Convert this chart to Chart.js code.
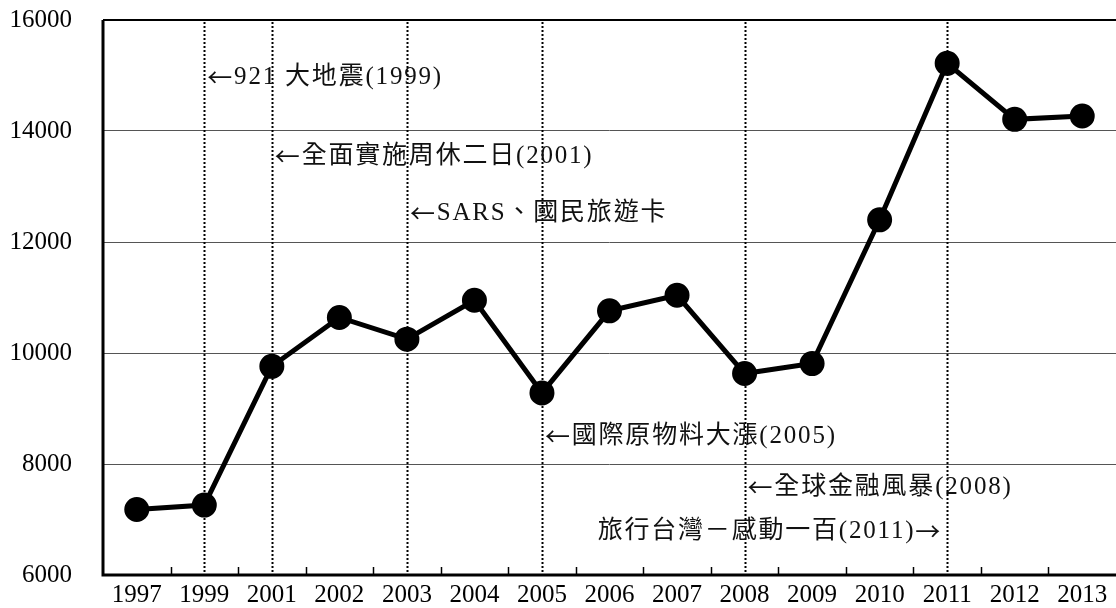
<!DOCTYPE html>
<html>
<head>
<meta charset="utf-8">
<script src="https://cdn.jsdelivr.net/npm/chart.js@4"></script>
<style>
  html, body { margin: 0; padding: 0; background: #fff; }
  #wrap { width: 1116px; height: 608px; }
</style>
</head>
<body>
<div id="wrap"><canvas id="grafica" width="1116" height="608"></canvas></div>
<script>
const anios = ['1997','1999','2001','2002','2003','2004','2005','2006','2007','2008','2009','2010','2011','2012','2013']
const valores = [7180, 7260, 9760, 10640, 10250, 10950, 9280, 10760, 11040, 9630, 9810, 12400, 15220, 14210, 14270]
const yTicks = [6000, 8000, 10000, 12000, 14000, 16000]

// eventos: texto, categoría donde cae la línea punteada, altura del texto (en unidades del eje y)
const eventos = ['←921 大地震(1999)', '←全面實施周休二日(2001)', '←SARS、國民旅遊卡', '←國際原物料大漲(2005)', '←全球金融風暴(2008)', '旅行台灣－感動一百(2011)→']
const eventoCat = [1, 2, 4, 6, 9, 12]
const eventoY = [14970, 13540, 12520, 8500, 7580, 6790]
const eventoLado = ['right', 'right', 'right', 'right', 'right', 'left']

const serif = '"Liberation Serif", "Times New Roman", "Noto Sans CJK TC", serif'
const cjk = '"Noto Sans CJK TC", sans-serif'

// dibuja el texto por tramos: flechas con la fuente CJK (más anchas), resto con serif
function textoMixto(ctx, t, x, y, alinear) {
  const tramos = []
  for (const ch of t) {
    const f = (ch === '←' || ch === '→') ? cjk : serif
    const ult = tramos[tramos.length - 1]
    if (ult && ult.f === f) ult.s += ch
    else tramos.push({ f, s: ch })
  }
  let total = 0
  tramos.forEach((tr) => {
    ctx.font = '25px ' + tr.f
    tr.w = ctx.measureText(tr.s).width
    total += tr.w
  })
  let px = alinear === 'right' ? x - total : x
  ctx.textAlign = 'left'
  tramos.forEach((tr) => {
    ctx.font = '25px ' + tr.f
    ctx.fillText(tr.s, px, y)
    px += tr.w
  })
}

const marco = {
  id: 'marco',
  beforeDatasetsDraw(chart) {
    const { ctx, chartArea: a, scales: { x } } = chart
    ctx.save()
    // líneas punteadas de eventos
    ctx.strokeStyle = '#000'
    ctx.lineWidth = 2
    ctx.setLineDash([2, 2])
    eventoCat.forEach((c) => {
      const px = Math.round(x.getPixelForValue(c)) + 0.5
      ctx.beginPath()
      ctx.moveTo(px, a.top + 2)
      ctx.lineTo(px, a.bottom - 2)
      ctx.stroke()
    })
    ctx.setLineDash([])
    // marcas internas del eje x
    ctx.lineWidth = 1.5
    for (let i = 0; i < anios.length - 1; i++) {
      const px = Math.round((x.getPixelForValue(i) + x.getPixelForValue(i + 1)) / 2) + 0.5
      ctx.beginPath()
      ctx.moveTo(px, a.bottom)
      ctx.lineTo(px, a.bottom - 8)
      ctx.stroke()
    }
    // marco
    ctx.lineWidth = 3
    ctx.beginPath()
    ctx.moveTo(a.left, a.top)
    ctx.lineTo(a.left, a.bottom)
    ctx.lineTo(a.right, a.bottom)
    ctx.stroke()
    ctx.lineWidth = 2
    ctx.beginPath()
    ctx.moveTo(a.left, a.top)
    ctx.lineTo(a.right, a.top)
    ctx.stroke()
    ctx.restore()
  },
  afterDraw(chart) {
    const { ctx, scales: { x, y } } = chart
    ctx.save()
    ctx.fillStyle = '#111'
    ctx.textBaseline = 'middle'
    if ('letterSpacing' in ctx) ctx.letterSpacing = '1.8px'
    eventos.forEach((t, i) => {
      const px = x.getPixelForValue(eventoCat[i])
      const py = y.getPixelForValue(eventoY[i])
      if (eventoLado[i] === 'right') textoMixto(ctx, t, px + 3, py, 'left')
      else textoMixto(ctx, t, px - 5, py, 'right')
    })
    ctx.restore()
  }
}

new Chart(document.getElementById('grafica'), {
  type: 'line',
  data: {
    labels: anios,
    datasets: [{
      data: valores,
      borderColor: '#000',
      borderWidth: 5,
      pointRadius: 10,
      pointHoverRadius: 10,
      pointBackgroundColor: '#000',
      pointBorderColor: '#000',
      tension: 0
    }]
  },
  options: {
    responsive: false,
    animation: false,
    layout: { autoPadding: false, padding: { top: 20, left: 0, right: 0, bottom: 0 } },
    plugins: { legend: { display: false }, tooltip: { enabled: false } },
    scales: {
      x: {
        offset: true,
        grid: { display: false },
        border: { display: false },
        ticks: { color: '#000', font: { family: serif, size: 25, lineHeight: 1 }, padding: 0, maxRotation: 0, autoSkip: false },
        afterFit: (s) => { s.height = 33 }
      },
      y: {
        min: 6000,
        max: 16000,
        afterBuildTicks: (s) => { s.ticks = yTicks.map(v => ({ value: v })) },
        grid: { color: '#555', lineWidth: 1, drawTicks: true, tickLength: 31, tickColor: 'rgba(0,0,0,0)' },
        border: { display: false },
        ticks: { color: '#000', font: { family: serif, size: 25 }, padding: 0, callback: (v) => String(v) },
        afterFit: (s) => { s.width = 103 }
      }
    }
  },
  plugins: [marco]
})
</script>
</body>
</html>
